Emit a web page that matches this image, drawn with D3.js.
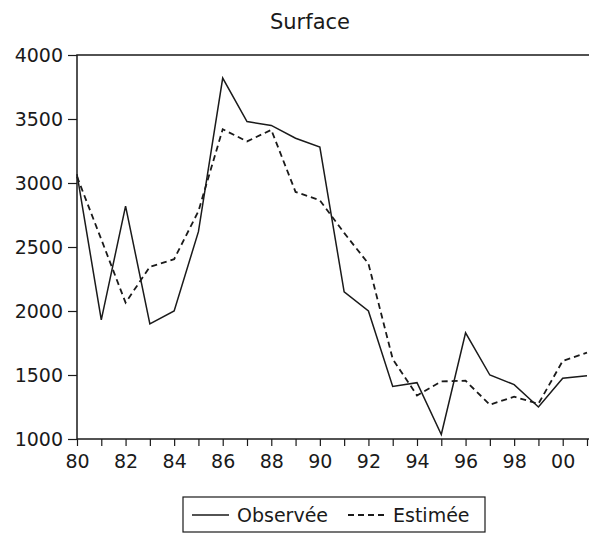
<!DOCTYPE html>
<html>
<head>
<meta charset="utf-8">
<script src="https://cdn.jsdelivr.net/npm/d3@7"></script>
<style>
  body { margin: 0; background: #fff; }
  text { font-family: "DejaVu Sans", sans-serif; fill: #1a1a1a; }
</style>
</head>
<body>
<div id="chart"></div>
<script>
// years 1980..2001
const years = d3.range(1980, 2002);
const observee = [3070, 1930, 2820, 1900, 2000, 2620, 3820, 3480, 3450, 3350, 3280,
  2150, 2000, 1410, 1440, 1035, 1830, 1500, 1425, 1250, 1475, 1495];
const estimee = [3050, 2560, 2065, 2345, 2405, 2780, 3420, 3325, 3415, 2930, 2865,
  2610, 2370, 1625, 1340, 1450, 1455, 1268, 1330, 1275, 1610, 1675];
const yTicks = [1000, 1500, 2000, 2500, 3000, 3500, 4000];
const xLabelYears = d3.range(1980, 2001, 2);

const width = 589, height = 535;
const plotLeft = 77, plotTop = 55, plotRight = 587, plotBottom = 439;

const svg = d3.select('#chart').append('svg')
  .attr('width', width)
  .attr('height', height);

const x = d3.scaleLinear().domain([1980, 2001]).range([plotLeft, plotRight]);
const y = d3.scaleLinear().domain([1000, 4000]).range([plotBottom, plotTop]);

// title
svg.append('text')
  .attr('x', 310).attr('y', 29)
  .attr('text-anchor', 'middle')
  .style('font-size', '21px')
  .text('Surface');

// frame
svg.append('rect')
  .attr('x', plotLeft).attr('y', plotTop)
  .attr('width', 600 - plotLeft).attr('height', plotBottom - plotTop)
  .attr('fill', 'none').attr('stroke', '#1a1a1a').attr('stroke-width', 1.5);

// y axis
const yAxis = svg.append('g')
  .attr('transform', `translate(${plotLeft},0)`)
  .call(d3.axisLeft(y).tickValues(yTicks).tickSize(9).tickPadding(5).tickFormat(d3.format('d')));
yAxis.select('.domain').remove();
yAxis.selectAll('line').attr('stroke', '#1a1a1a').attr('stroke-width', 1.2);
yAxis.selectAll('text').style('font-size', '19px').attr('font-family', null);
yAxis.attr('font-family', null);

// x axis
const xAxis = svg.append('g')
  .attr('transform', `translate(0,${plotBottom})`)
  .call(d3.axisBottom(x).tickValues(years).tickSize(7).tickPadding(9)
    .tickFormat(d => xLabelYears.includes(d) ? d3.format('02d')(d % 100) : ''));
xAxis.select('.domain').remove();
xAxis.selectAll('line').attr('stroke', '#1a1a1a').attr('stroke-width', 1.2);
xAxis.selectAll('text').style('font-size', '19px');
xAxis.attr('font-family', null);

const line = d3.line()
  .x((d, i) => x(years[i]))
  .y(d => y(d));

svg.append('path')
  .datum(estimee)
  .attr('fill', 'none')
  .attr('stroke', '#1a1a1a')
  .attr('stroke-width', 1.8)
  .attr('stroke-dasharray', '6,4')
  .attr('d', line);

svg.append('path')
  .datum(observee)
  .attr('fill', 'none')
  .attr('stroke', '#1a1a1a')
  .attr('stroke-width', 1.5)
  .attr('d', line);

// legend
const lg = svg.append('g');
lg.append('rect')
  .attr('x', 183).attr('y', 497)
  .attr('width', 302).attr('height', 35)
  .attr('fill', 'none').attr('stroke', '#1a1a1a').attr('stroke-width', 1.2);
lg.append('line')
  .attr('x1', 192).attr('x2', 229).attr('y1', 515).attr('y2', 515)
  .attr('stroke', '#1a1a1a').attr('stroke-width', 1.5);
lg.append('text')
  .attr('x', 237).attr('y', 522)
  .style('font-size', '19px')
  .text('Observée');
lg.append('line')
  .attr('x1', 348).attr('x2', 386).attr('y1', 515).attr('y2', 515)
  .attr('stroke', '#1a1a1a').attr('stroke-width', 1.8)
  .attr('stroke-dasharray', '6,4');
lg.append('text')
  .attr('x', 393).attr('y', 522)
  .style('font-size', '19px')
  .text('Estimée');
</script>
</body>
</html>
